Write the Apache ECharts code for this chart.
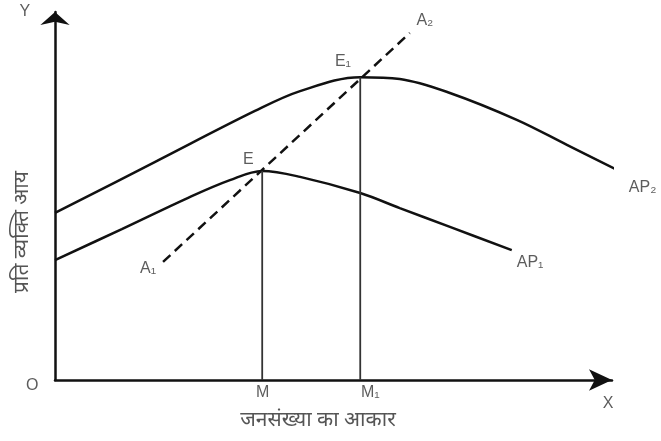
<!DOCTYPE html>
<html>
<head>
<meta charset="utf-8">
<script src="https://cdn.jsdelivr.net/npm/echarts@6/dist/echarts.min.js"></script>
<style>
  html, body { margin: 0; background: #fff; }
  #chart { width: 661px; height: 441px; }
</style>
</head>
<body>
<div id="chart"></div>
<script>
// curve points (x = population size, y = income per head)
const ap2Curve = [[0, 45.4], [17.9, 59.2], [35.9, 73.1], [44.0, 78.5], [54.8, 82.3],
  [61.9, 81.8], [70.9, 78.0], [82.9, 70.7], [91.9, 63.9], [102.0, 56.3]];
const ap1Curve = [[0, 32.6], [12.0, 41.0], [23.9, 49.5], [31.4, 54.3], [37.2, 56.8],
  [44.0, 55.2], [54.8, 50.8], [61.9, 46.7], [70.9, 41.6], [82.0, 35.3]];
const optimumLine = [[19.4, 32.1], [63.7, 94.3]];   // A1 -> A2
const pointE = [37.2, 56.8];
const pointE1 = [54.8, 82.3];

// point labels: text and where it sits
const labelTexts = ['E', 'E₁', 'A₂', 'A₁', 'AP₁', 'AP₂', 'M', 'M₁', 'O', 'X', 'Y'];
const labelPos = [[34.7, 59.8], [51.7, 86.4], [66.4, 97.8], [16.7, 30.4], [85.3, 31.8],
  [105.5, 52.2], [37.3, -3.5], [56.6, -3.5], [-4.1, -1.6], [99.3, -6.3], [-5.4, 100]];

const xTitle = 'जनसंख्या का आकार';
const yTitle = 'प्रति व्यक्ति आय';

const hindiFont = '"Noto Sans Devanagari", "Noto Sans", "DejaVu Sans", sans-serif';
const ink = '#111';

const chart = echarts.init(document.getElementById('chart'));

const curve = (data) => ({
    type: 'line',
    data: data,
    smooth: 0.35,
    symbol: 'none',
    clip: false,
    lineStyle: { color: ink, width: 2.5 },
    silent: true
});

const dropLine = (pt) => ({
    type: 'line',
    data: [[pt[0], 0], pt],
    symbol: 'none',
    clip: false,
    lineStyle: { color: '#333', width: 1.8 },
    silent: true
});

chart.setOption({
    animation: false,
    grid: { left: 55, right: 49, top: 12, bottom: 61 },
    xAxis: {
        type: 'value', min: 0, max: 100,
        axisLine: { show: true, symbol: ['none', 'arrow'], symbolSize: [16, 23],
            lineStyle: { color: ink, width: 2.5 } },
        axisTick: { show: false }, axisLabel: { show: false }, splitLine: { show: false }
    },
    yAxis: {
        type: 'value', min: 0, max: 100,
        axisLine: { show: true, symbol: ['none', 'arrow'], symbolSize: [22, 13],
            lineStyle: { color: ink, width: 2.5 } },
        axisTick: { show: false }, axisLabel: { show: false }, splitLine: { show: false }
    },
    series: [
        curve(ap2Curve),
        curve(ap1Curve),
        {
            type: 'line',
            data: optimumLine,
            symbol: 'none',
            clip: false,
            lineStyle: { color: ink, width: 2.5, type: [10, 6] },
            silent: true
        },
        dropLine(pointE),
        dropLine(pointE1),
        {
            type: 'scatter',
            symbolSize: 0,
            clip: false,
            silent: true,
            z: 10,
            data: labelTexts.map((t, i) => ({ name: t, value: labelPos[i] })),
            label: {
                show: true, position: 'inside', formatter: '{b}',
                color: '#333', fontSize: 16, fontFamily: 'Arial, "Liberation Sans", sans-serif'
            }
        }
    ],
    graphic: [
        {
            type: 'text', x: 318, y: 422,
            style: { text: xTitle, font: '21px ' + hindiFont, fill: '#555',
                align: 'center', verticalAlign: 'middle' }
        },
        {
            type: 'text', x: 24, y: 232, rotation: Math.PI / 2,
            style: { text: yTitle, font: '21px ' + hindiFont, fill: '#555',
                align: 'center', verticalAlign: 'middle' }
        }
    ]
});
</script>
</body>
</html>
